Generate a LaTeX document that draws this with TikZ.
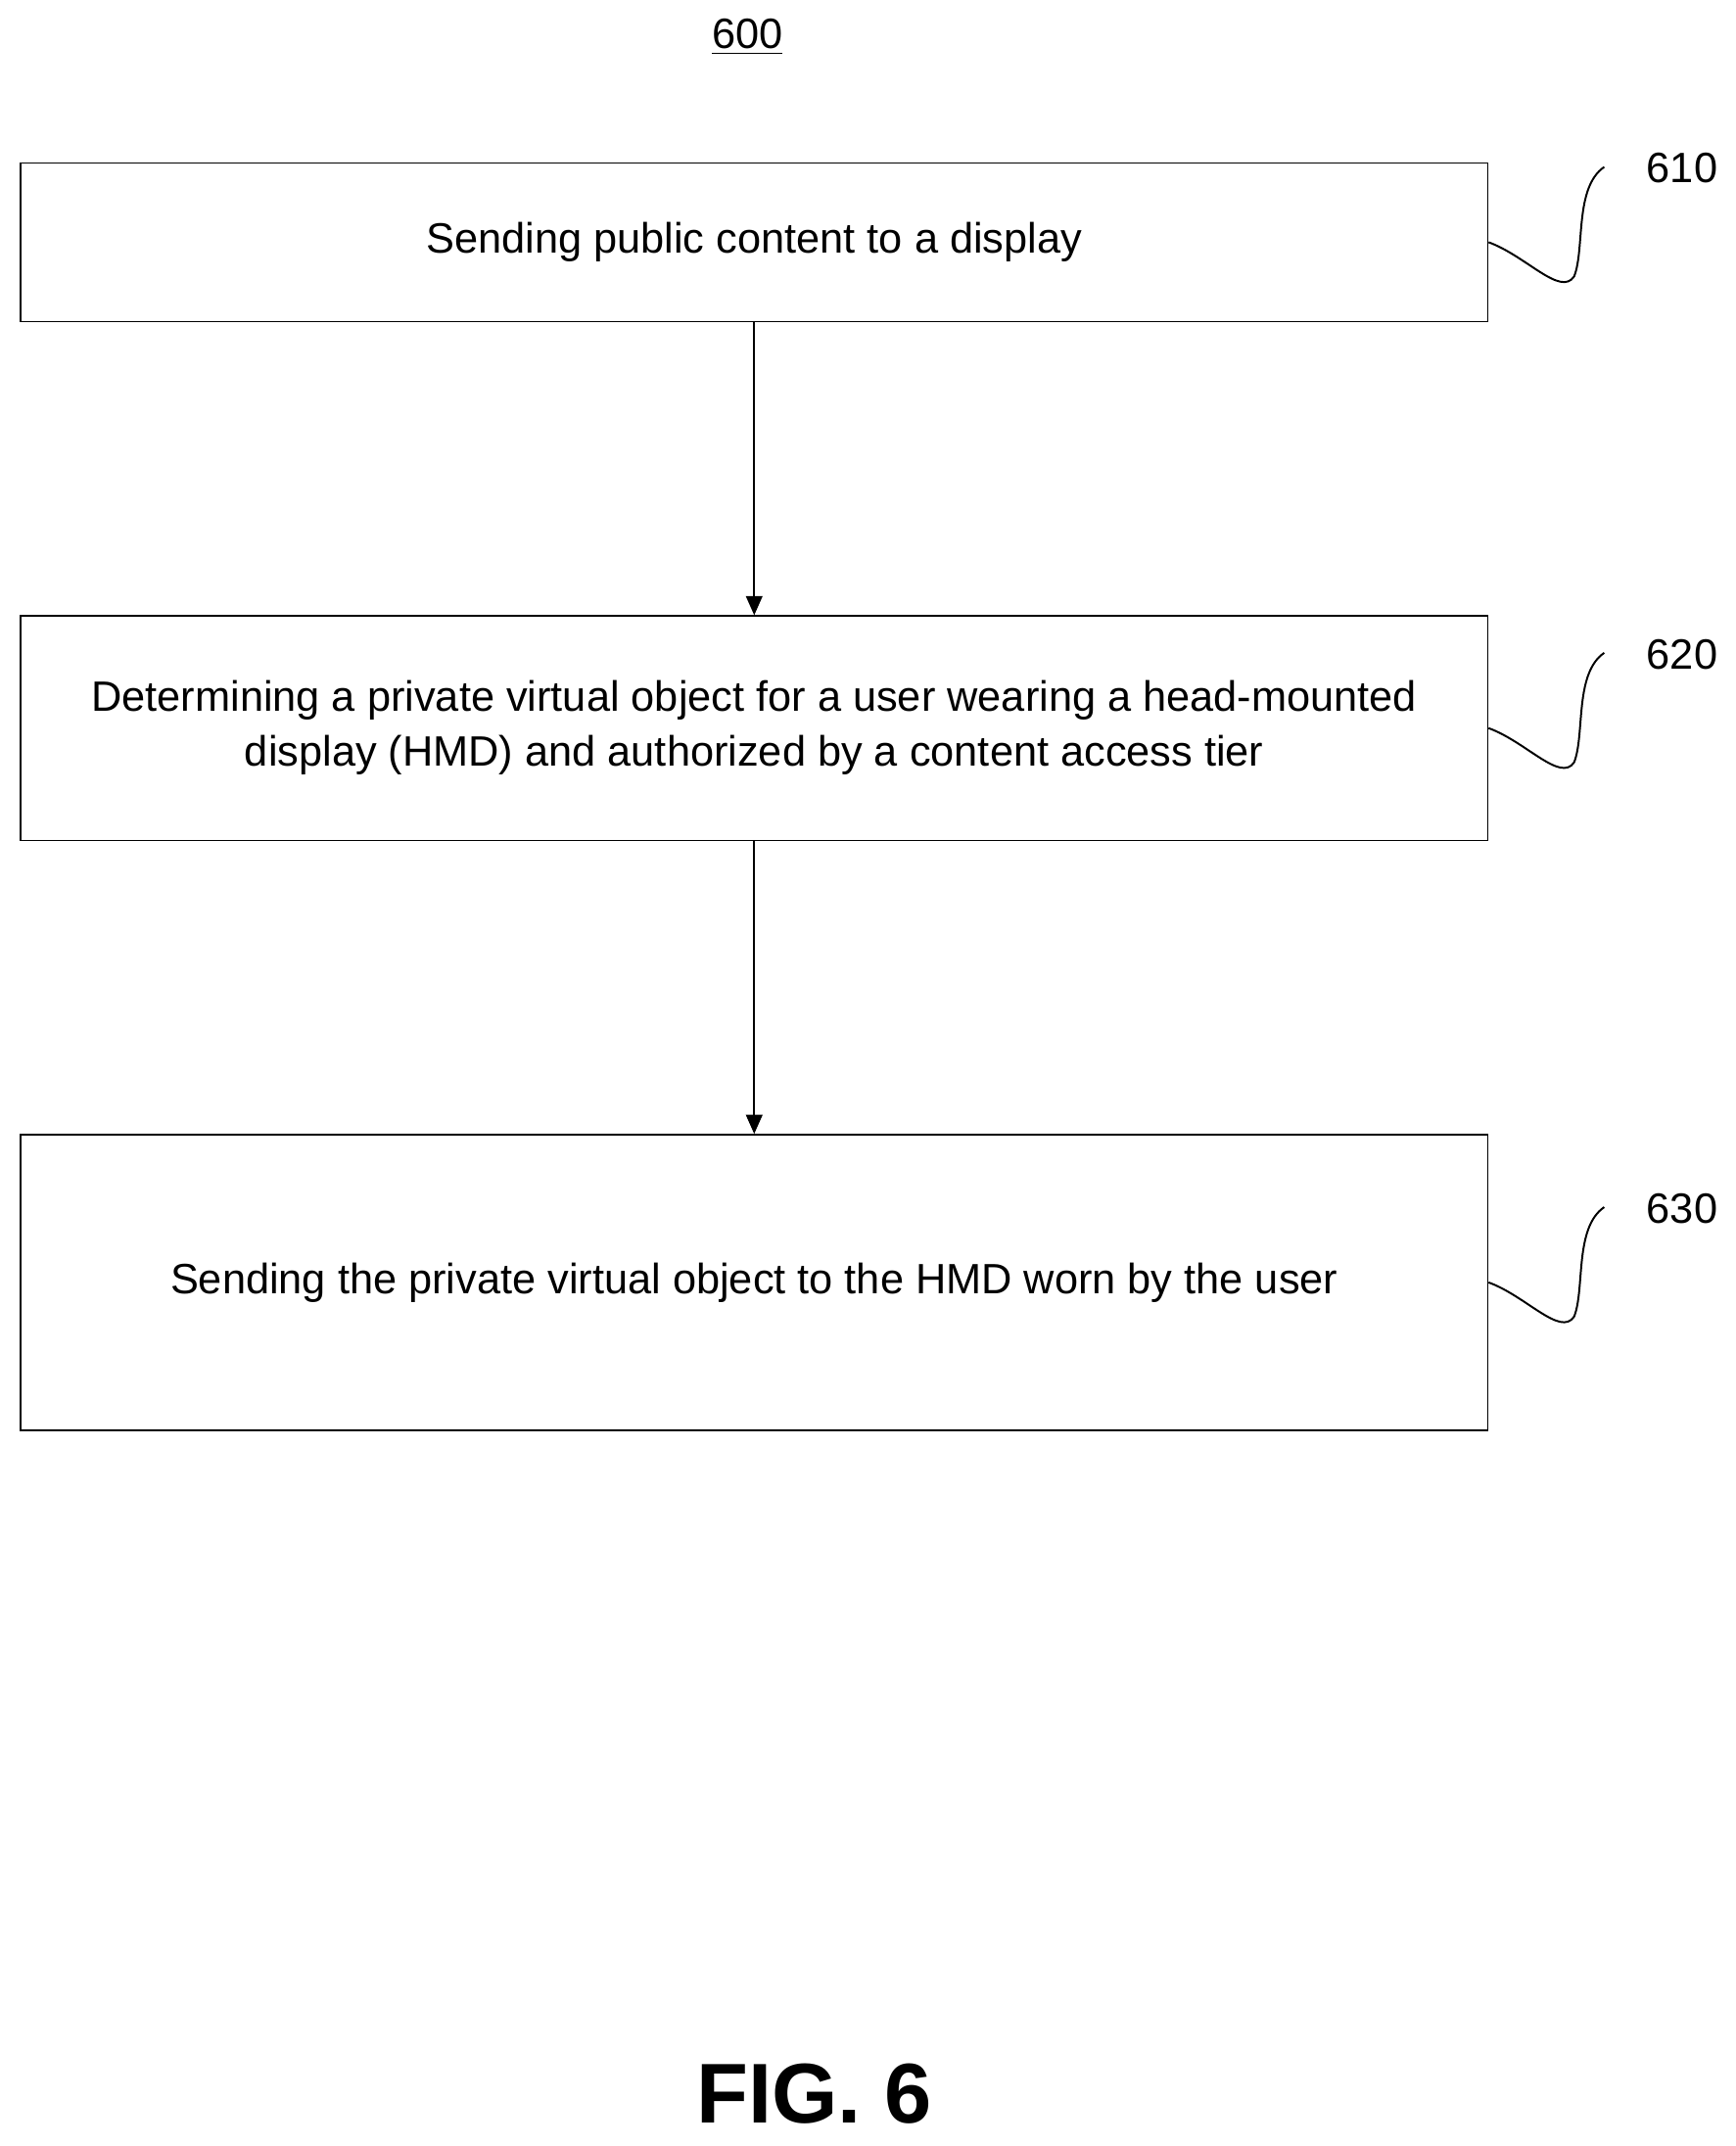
\documentclass[tikz,border=0pt]{standalone}
\usepackage{fontspec}
\setmainfont{Liberation Sans}
\usetikzlibrary{arrows.meta}
\begin{document}
\begin{tikzpicture}[x=0.5pt,y=-0.5pt,
  box/.style={draw,line width=0.5pt,inner sep=0pt,align=center,font=\fontsize{15.5}{20}\selectfont},
  lbl/.style={font=\fontsize{15.5}{18}\selectfont,anchor=west},
  arr/.style={-{Triangle[length=7pt,width=6pt]},line width=0.7pt},
  sq/.style={line width=0.7pt}]
\useasboundingbox (0,0) rectangle (1268,1568);
\node (t) at (546,27) {\fontsize{15.5}{18}\selectfont\underline{600}};
\node[box,minimum width=1072pt*0.5,minimum height=116pt*0.5] (b1) at (551,177) {Sending public content to a display};
\node[box,minimum width=1072pt*0.5,minimum height=164pt*0.5] (b2) at (551,532) {Determining a private virtual object for a user wearing a head-mounted\\display (HMD) and authorized by a content access tier};
\node[box,minimum width=1072pt*0.5,minimum height=216pt*0.5] (b3) at (551,937) {Sending the private virtual object to the HMD worn by the user};
\draw[arr] (b1) -- (b2);
\draw[arr] (b2) -- (b3);
\foreach \n/\y/\t in {1/177/610,2/532/620,3/937/630}{
  \coordinate (e\n) at (1172,\y-55);
  \node[lbl] (l\n) at (1196,\y-54) {\t};
  \draw[sq] (b\n.east) .. controls (1115,\y+10) and (1140,\y+40) .. (1150,\y+25) .. controls (1158,\y+5) and (1150,\y-40) .. (e\n);
}
\node (fig) at (595,1530) {\fontsize{31}{36}\selectfont\bfseries FIG. 6};
\end{tikzpicture}
\end{document}
